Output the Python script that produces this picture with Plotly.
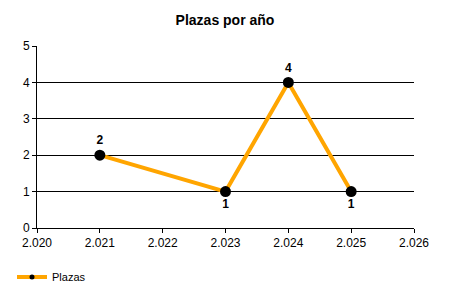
import plotly.graph_objects as go

years = [2021, 2023, 2024, 2025]
plazas = [2, 1, 4, 1]
label_pos = ["top center", "bottom center", "top center", "bottom center"]
x_ticks = [2020, 2021, 2022, 2023, 2024, 2025, 2026]
x_tick_labels = ["2.020", "2.021", "2.022", "2.023", "2.024", "2.025", "2.026"]
y_ticks = [0, 1, 2, 3, 4, 5]

font_family = "Liberation Sans, Arial, sans-serif"

fig = go.Figure()
fig.add_trace(go.Scatter(
    x=years, y=plazas, name="Plazas",
    mode="lines+markers+text",
    text=[str(v) for v in plazas],
    textposition=label_pos,
    textfont=dict(family=font_family, size=12, color="black", weight="bold"),
    line=dict(color="#FFA500", width=4),
    marker=dict(color="black", size=11),
    cliponaxis=False,
    showlegend=False,
))
# legend entry (smaller marker like the reference legend)
fig.add_trace(go.Scatter(
    x=[None], y=[None], name="Plazas", mode="lines+markers",
    line=dict(color="#FFA500", width=4),
    marker=dict(color="black", size=5),
    showlegend=True,
))

fig.update_layout(
    width=450, height=300,
    margin=dict(l=37, r=36, t=46, b=72, autoexpand=False),
    paper_bgcolor="white", plot_bgcolor="white",
    font=dict(family=font_family, size=12, color="black"),
    title=dict(text="<b>Plazas por año</b>", x=0.5, xanchor="center",
               y=1 - 20 / 300, yanchor="middle", font=dict(size=14, color="black")),
    showlegend=True,
    legend=dict(xref="container", yref="container", x=12 / 450, y=1 - 277 / 300,
                xanchor="left", yanchor="middle", font=dict(size=11),
                bgcolor="rgba(0,0,0,0)"),
    xaxis=dict(range=[2020, 2026], tickvals=x_ticks, ticktext=x_tick_labels,
               showgrid=False, zeroline=False, showline=True, linecolor="black",
               linewidth=1, ticks="outside", ticklen=4, tickcolor="black",
               tickfont=dict(size=12), automargin=False),
    yaxis=dict(range=[0, 5], tickvals=y_ticks, showgrid=True, gridcolor="black",
               gridwidth=1, zeroline=False, showline=True, linecolor="black",
               linewidth=1, ticks="outside", ticklen=4, tickcolor="black",
               tickfont=dict(size=12), automargin=False),
)

fig.write_html("out.html")
